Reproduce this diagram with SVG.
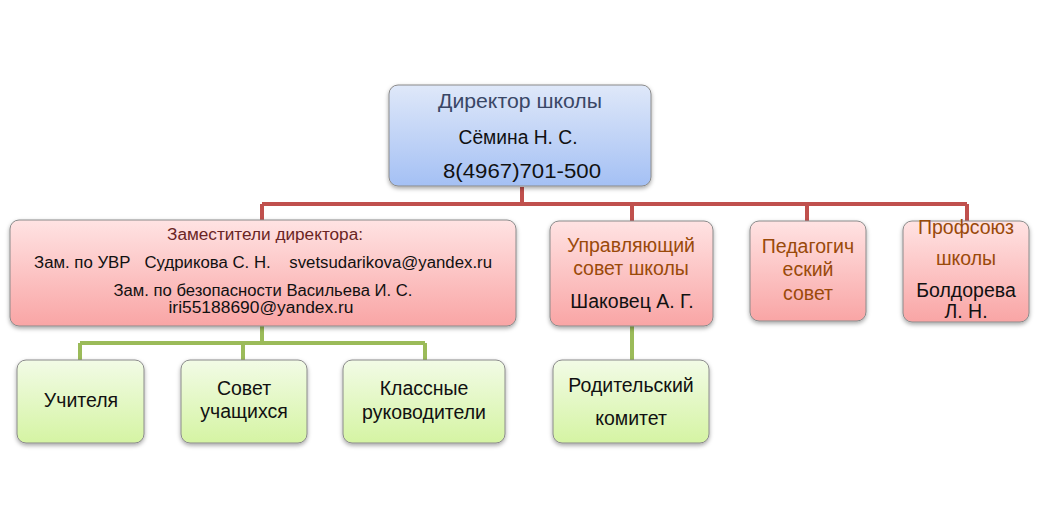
<svg xmlns="http://www.w3.org/2000/svg" width="1041" height="529" viewBox="0 0 1041 529">
<defs>
<linearGradient id="gBlue" x1="0" y1="0" x2="0" y2="1"><stop offset="0" stop-color="#dfe8f9"/><stop offset="1" stop-color="#a4c0f4"/></linearGradient>
<linearGradient id="gRed" x1="0" y1="0" x2="0" y2="1"><stop offset="0" stop-color="#ffe3e3"/><stop offset="1" stop-color="#f9a5a5"/></linearGradient>
<linearGradient id="gGreen" x1="0" y1="0" x2="0" y2="1"><stop offset="0" stop-color="#f2fbe6"/><stop offset="1" stop-color="#d5f4a3"/></linearGradient>
<filter id="sh" x="-10%" y="-10%" width="120%" height="130%"><feDropShadow dx="0" dy="2" stdDeviation="2" flood-color="#000" flood-opacity="0.35"/></filter>
</defs>
<style>
.box{stroke:#8a8a8a;stroke-width:1;filter:url(#sh)}
.blue{fill:url(#gBlue)}
.red{fill:url(#gRed)}
.green{fill:url(#gGreen)}
text{font-family:"Liberation Sans",Arial,sans-serif;text-anchor:middle}
.t{font-size:19.5px;fill:#111}
.dir{font-size:20px;fill:#3a4766}
.hd{font-size:19.5px;fill:#9a4a0a}
.dep{font-size:16px;fill:#111}
.deph{font-size:16px;fill:#6a2524}
.rc{fill:none;stroke:#c0504d;stroke-width:4}
.gc{fill:none;stroke:#9bbb59;stroke-width:4}
</style>
<rect width="1041" height="529" fill="#ffffff"/>
<g id="connectors">
<path class="rc" d="M522 187V204M262 204H967M262 204V220M632 204V221M807 204V221M967 204V221"/>
<path class="gc" d="M262 326V343M80 343H425M80 343V360M243 343V360M425 343V360M632 326V360"/>
</g>
<g id="director">
<rect class="box blue" x="389" y="85" width="262" height="101" rx="9"/>
<text class="dir" x="520" y="108" textLength="164" lengthAdjust="spacingAndGlyphs">Директор школы</text>
<text class="t" x="518" y="144" font-size="20" textLength="119" lengthAdjust="spacingAndGlyphs">Сёмина Н. С.</text>
<text class="t" x="522" y="178" font-size="20" textLength="158" lengthAdjust="spacingAndGlyphs">8(4967)701-500</text>
</g>
<g id="deputies">
<rect class="box red" x="10" y="220" width="506" height="106" rx="9"/>
<text class="deph" x="265" y="240" textLength="196" lengthAdjust="spacingAndGlyphs">Заместители директора:</text>
<text class="dep" x="263" y="268" xml:space="preserve" textLength="458" lengthAdjust="spacingAndGlyphs">Зам. по УВР   Судрикова С. Н.    svetsudarikova@yandex.ru</text>
<text class="dep" x="263" y="296" textLength="299" lengthAdjust="spacingAndGlyphs">Зам. по безопасности  Васильева И. С.</text>
<text class="dep" x="261" y="313" textLength="185" lengthAdjust="spacingAndGlyphs">iri55188690@yandex.ru</text>
</g>
<g id="council">
<rect class="box red" x="550" y="221" width="163" height="105" rx="9"/>
<text class="hd" x="631" y="252">Управляющий</text>
<text class="hd" x="631" y="275">совет школы</text>
<text class="t" x="632" y="308">Шаковец А. Г.</text>
</g>
<g id="pedsovet">
<rect class="box red" x="750" y="221" width="116" height="100" rx="9"/>
<text class="hd" x="808" y="253">Педагогич</text>
<text class="hd" x="808" y="276">еский</text>
<text class="hd" x="808" y="300">совет</text>
</g>
<g id="union">
<rect class="box red" x="903" y="221" width="126" height="101" rx="9"/>
<text class="hd" x="966" y="234">Профсоюз</text>
<text class="hd" x="966" y="265">школы</text>
<text class="t" x="966" y="297">Болдорева</text>
<text class="t" x="966" y="318">Л. Н.</text>
</g>
<g id="teachers">
<rect class="box green" x="17" y="360" width="127" height="83" rx="9"/>
<text class="t" x="81" y="407">Учителя</text>
</g>
<g id="students">
<rect class="box green" x="181" y="360" width="126" height="83" rx="9"/>
<text class="t" x="244" y="395">Совет</text>
<text class="t" x="244" y="418">учащихся</text>
</g>
<g id="class-leaders">
<rect class="box green" x="343" y="360" width="162" height="83" rx="9"/>
<text class="t" x="424" y="395">Классные</text>
<text class="t" x="424" y="419">руководители</text>
</g>
<g id="parents">
<rect class="box green" x="553" y="360" width="156" height="83" rx="9"/>
<text class="t" x="631" y="392">Родительский</text>
<text class="t" x="631" y="425">комитет</text>
</g>
</svg>
